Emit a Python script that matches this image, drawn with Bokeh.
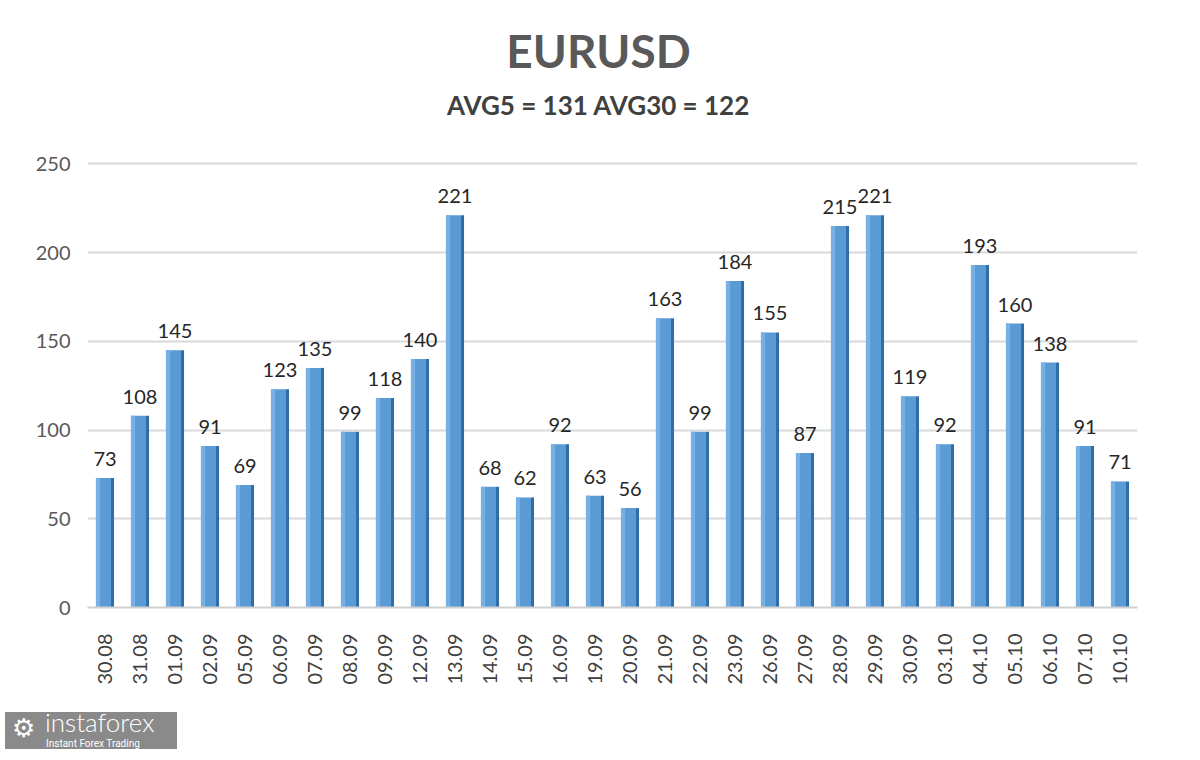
from bokeh.plotting import figure
from bokeh.models import ColumnDataSource, LabelSet, FactorRange, Range1d, Div
from bokeh.layouts import column
from bokeh.core.properties import value
from bokeh.transform import dodge
from bokeh.embed import file_html
from bokeh.resources import INLINE

dates = ["30.08", "31.08", "01.09", "02.09", "05.09", "06.09", "07.09", "08.09", "09.09",
         "12.09", "13.09", "14.09", "15.09", "16.09", "19.09", "20.09", "21.09", "22.09",
         "23.09", "26.09", "27.09", "28.09", "29.09", "30.09", "03.10", "04.10", "05.10",
         "06.10", "07.10", "10.10"]
values = [73, 108, 145, 91, 69, 123, 135, 99, 118, 140, 221, 68, 62, 92, 63, 56, 163, 99,
          184, 155, 87, 215, 221, 119, 92, 193, 160, 138, 91, 71]
y_ticks = [0, 50, 100, 150, 200, 250]
title_text = "EURUSD"
subtitle_text = "AVG5 = 131 AVG30 = 122"
logo_text = "instaforex"
logo_sub = "Instant Forex Trading"

src = ColumnDataSource(dict(d=dates, v=values, lab=[str(x) for x in values]))

W, H = 1184, 702
# the frame reaches up to the top of the canvas so the titles can sit inside it
Y_TOP = 342
p = figure(width=W, height=H, x_range=FactorRange(*dates, range_padding=0),
           y_range=Range1d(0, Y_TOP), output_backend="svg", toolbar_location=None,
           min_border_left=87, min_border_right=47,
           min_border_top=0, min_border_bottom=95)

# titles, centred on the page
mid = dates[14]
p.text(x=[(mid, 0.1)], y=[314], text=[title_text], text_align="center",
       text_baseline="middle", text_font=value("Lato"), text_font_size="46px",
       text_font_style="bold", text_color="#595959")
p.text(x=[(mid, 0.1)], y=[283], text=[subtitle_text], text_align="center",
       text_baseline="middle", text_font=value("Lato"), text_font_size="26px",
       text_font_style="bold", text_color="#404040")

# front face (light left strip + main), side face (dark)
p.vbar(x=dodge("d", -0.043, range=p.x_range), top="v", width=0.43, source=src,
       fill_color="#5b9bd5", line_color=None)
p.vbar(x=dodge("d", -0.20, range=p.x_range), top="v", width=0.12, source=src,
       fill_color="#78b0e3", line_color=None)
p.vbar(x=dodge("d", 0.215, range=p.x_range), top="v", width=0.086, source=src,
       fill_color="#2f6ca8", line_color=None)

labels = LabelSet(x="d", y="v", text="lab", source=src, text_align="center",
                  text_baseline="bottom", y_offset=12, text_font=value("Lato"),
                  text_font_size=value("20px"), text_color="#262626")
p.add_layout(labels)

p.yaxis.ticker = y_ticks
p.yaxis.axis_line_color = None
p.yaxis.major_tick_line_color = None
p.yaxis.minor_tick_line_color = None
p.yaxis.major_label_text_font = "Lato"
p.yaxis.major_label_text_font_size = "20px"
p.yaxis.major_label_text_color = "#595959"
p.yaxis.major_label_standoff = 11

p.xaxis.axis_line_color = "#d0d0d0"
p.xaxis.axis_line_width = 2
p.xaxis.major_tick_line_color = None
p.xaxis.minor_tick_line_color = None
p.xaxis.major_label_orientation = 1.5708
p.xaxis.major_label_text_font = "Lato"
p.xaxis.major_label_text_font_size = "20px"
p.xaxis.major_label_text_color = "#404040"
p.xaxis.major_label_standoff = 20

p.xgrid.grid_line_color = None
p.ygrid.grid_line_color = "#d9d9d9"
p.ygrid.grid_line_width = 2
p.outline_line_color = None
p.background_fill_color = "white"
p.border_fill_color = "white"

logo = Div(width=172, height=42, text=(
    '<div style="width:172px;height:42px;position:relative;overflow:hidden;'
    'color:white;font-family:Lato, sans-serif;">'
    '<div style="position:absolute;left:0;top:5px;width:172px;height:37px;'
    'background:#8a8a8a;"></div>'
    '<span style="position:absolute;left:7px;top:7px;font-size:26px;line-height:28px;'
    'font-family:DejaVu Sans;">\u2699</span>'
    f'<span style="position:absolute;left:40px;top:2px;font-size:26px;line-height:26px;'
    f'font-weight:300;">{logo_text}</span>'
    f'<span style="position:absolute;left:41px;top:31px;font-size:10px;line-height:11px;'
    f'font-family:Roboto;">{logo_sub}</span></div>'))

layout = column(p, logo, spacing=0)

with open("out.html", "w") as f:
    f.write(file_html(layout, INLINE))
